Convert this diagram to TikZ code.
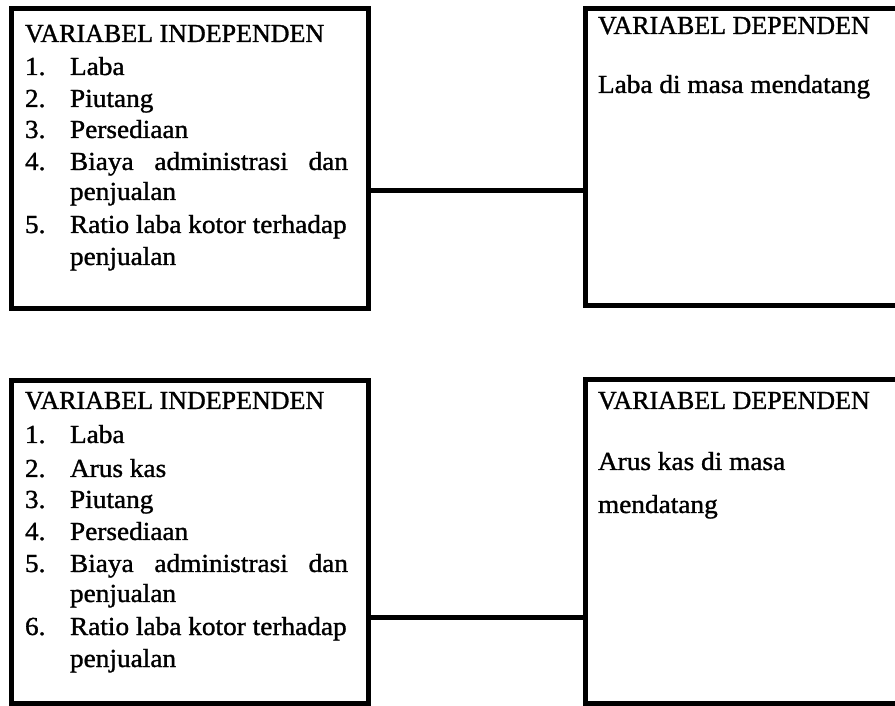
\documentclass[tikz,border=0pt]{standalone}
\usepackage{fontspec}
\setmainfont{Liberation Serif}[FakeStretch=1.05,FakeBold=1.2]
\newfontfamily\titlefont{Liberation Serif}[FakeBold=1.2]
\begin{document}
\begin{tikzpicture}[x=1pt,y=1pt,
  box/.style={draw, line width=5pt, outer sep=0pt, inner sep=0pt, anchor=north west},
  txt/.style={anchor=base west, inner sep=0pt, outer sep=0pt, font=\fontsize{26}{30}\selectfont},
  ttl/.style={anchor=base west, inner sep=0pt, outer sep=0pt, font=\titlefont\fontsize{26}{30}\selectfont},
  conn/.style={line width=5pt}]
\useasboundingbox[fill=white] (0,0) rectangle (895,705);
\clip (0,0) rectangle (895,705);
% boxes
\node[box, minimum width=357pt, minimum height=300pt] (tl) at (11,696) {};
\node[box, minimum width=320pt, minimum height=297pt] (tr) at (585,696) {};
\node[box, minimum width=357pt, minimum height=322pt] (bl) at (11,324) {};
\node[box, minimum width=320pt, minimum height=323pt] (br) at (585,325) {};
% connectors
\coordinate (c1) at (0,514);
\coordinate (c2) at (0,88);
\draw[conn] (tl.east |- c1) -- (tr.west |- c1);
\draw[conn] (bl.east |- c2) -- (br.west |- c2);
% top-left text
\node[ttl] (tlt) at (25,663) {VARIABEL INDEPENDEN};
\node[txt] (tln1) at (25,630) {1.};
\node[txt] (tli1) at (70,630) {Laba};
\node[txt] (tln2) at (25,598) {2.};
\node[txt] (tli2) at (70,598) {Piutang};
\node[txt] (tln3) at (25,567) {3.};
\node[txt] (tli3) at (70,567) {Persediaan};
\node[txt] (tln4) at (25,535) {4.};
\node[txt] (tli4) at (70,535) {\makebox[278pt][s]{Biaya administrasi dan}};
\node[txt] (tli4b) at (70,505) {penjualan};
\node[txt] (tln5) at (25,472) {5.};
\node[txt] (tli5) at (70,472) {Ratio laba kotor terhadap};
\node[txt] (tli5b) at (70,440) {penjualan};
% top-right text
\node[ttl] (trt) at (598,671) {VARIABEL DEPENDEN};
\node[txt] (tri) at (598,612) {Laba di masa mendatang};
% bottom-left text
\node[ttl] (blt) at (25,296) {VARIABEL INDEPENDEN};
\node[txt] (bln1) at (25,262) {1.};
\node[txt] (bli1) at (70,262) {Laba};
\node[txt] (bln2) at (25,228) {2.};
\node[txt] (bli2) at (70,228) {Arus kas};
\node[txt] (bln3) at (25,197) {3.};
\node[txt] (bli3) at (70,197) {Piutang};
\node[txt] (bln4) at (25,165) {4.};
\node[txt] (bli4) at (70,165) {Persediaan};
\node[txt] (bln5) at (25,133) {5.};
\node[txt] (bli5) at (70,133) {\makebox[278pt][s]{Biaya administrasi dan}};
\node[txt] (bli5b) at (70,103) {penjualan};
\node[txt] (bln6) at (25,70) {6.};
\node[txt] (bli6) at (70,70) {Ratio laba kotor terhadap};
\node[txt] (bli6b) at (70,38) {penjualan};
% bottom-right text
\node[ttl] (brt) at (598,296) {VARIABEL DEPENDEN};
\node[txt] (bri1) at (598,235) {Arus kas di masa};
\node[txt] (bri2) at (598,192) {mendatang};
\end{tikzpicture}
\end{document}
